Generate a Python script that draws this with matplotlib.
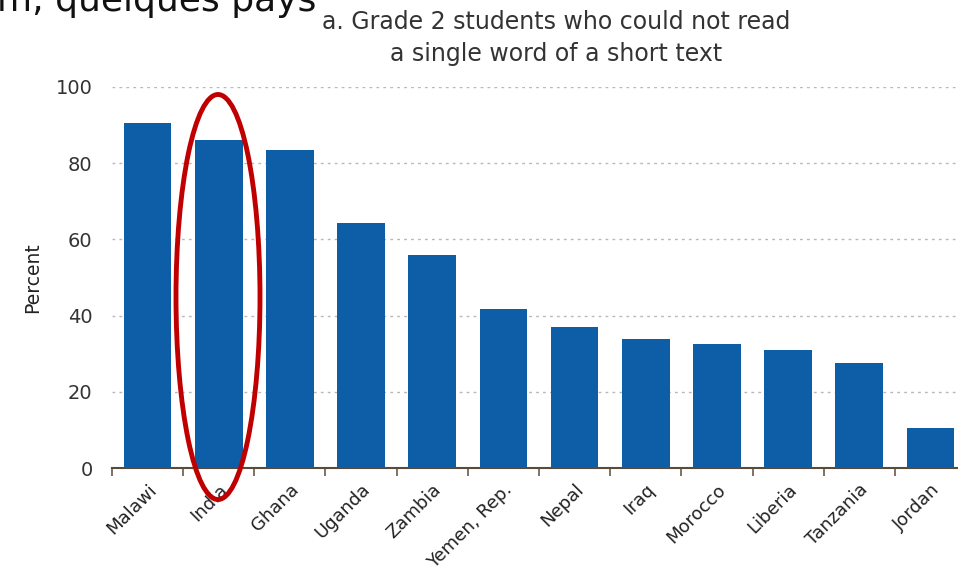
import matplotlib.pyplot as plt
from matplotlib.patches import Ellipse

countries = ['Malawi', 'India', 'Ghana', 'Uganda', 'Zambia', 'Yemen, Rep.',
             'Nepal', 'Iraq', 'Morocco', 'Liberia', 'Tanzania', 'Jordan']
percent = [90.5, 86, 83.4, 64.2, 56, 41.7, 37, 33.9, 32.6, 31, 27.6, 10.5]
yticks = [0, 20, 40, 60, 80, 100]

plt.rcParams['font.family'] = ['DejaVu Sans']

W, H = 958, 573
fig = plt.figure(figsize=(W / 100, H / 100), dpi=100)

# axes placed in pixel terms; right edge runs past the canvas like the source
ax = fig.add_axes([112 / W, 1 - 468 / H, 854 / W, 381 / H])

bar_color = '#0D5EA6'
x = range(len(countries))
ax.bar(x, percent, width=0.67, color=bar_color, zorder=3)

ax.set_xlim(-0.5, len(countries) - 0.5)
ax.set_ylim(0, 100)
ax.set_yticks(yticks)
ax.set_yticklabels([str(v) for v in yticks], fontsize=14, color='#333333')
ax.tick_params(axis='y', length=0, pad=14)

# category ticks sit between the bars
ax.set_xticks([i + 0.5 for i in range(-1, len(countries))], minor=False)
ax.set_xticklabels([])
ax.tick_params(axis='x', which='major', length=6, width=1.2, color='#6a5a4a', direction='out')
ax.set_xticks(list(x), minor=True)
ax.set_xticklabels(countries, minor=True, rotation=45, ha='right',
                   rotation_mode='anchor', fontsize=13, color='#222222')
ax.tick_params(axis='x', which='minor', length=0, pad=9)

ax.grid(axis='y', linestyle=(0, (2, 3)), color='#b8b8b8', linewidth=1, zorder=0)
for side in ['top', 'right', 'left']:
    ax.spines[side].set_visible(False)
ax.spines['bottom'].set_color('#5a4a3a')
ax.spines['bottom'].set_linewidth(1.5)

ax.set_ylabel('Percent', fontsize=13.5, color='#222222', labelpad=10)

fig.text(556 / W, 1 - 10 / H, 'a. Grade 2 students who could not read\na single word of a short text',
         ha='center', va='top', fontsize=17, color='#333333', linespacing=1.4)

# cropped heading from the slide above
fig.text(-3 / W, 1 - 11 / H, 'm, quelques pays', ha='left', va='baseline',
         fontsize=26, color='#111111')

# red highlight around India
oval = Ellipse((218 / W, 1 - 297 / H), 84 / W, 405 / H, transform=fig.transFigure,
               fill=False, edgecolor='#C00000', linewidth=3.5, zorder=10)
fig.add_artist(oval)

plt.savefig('out.png', dpi=100)
